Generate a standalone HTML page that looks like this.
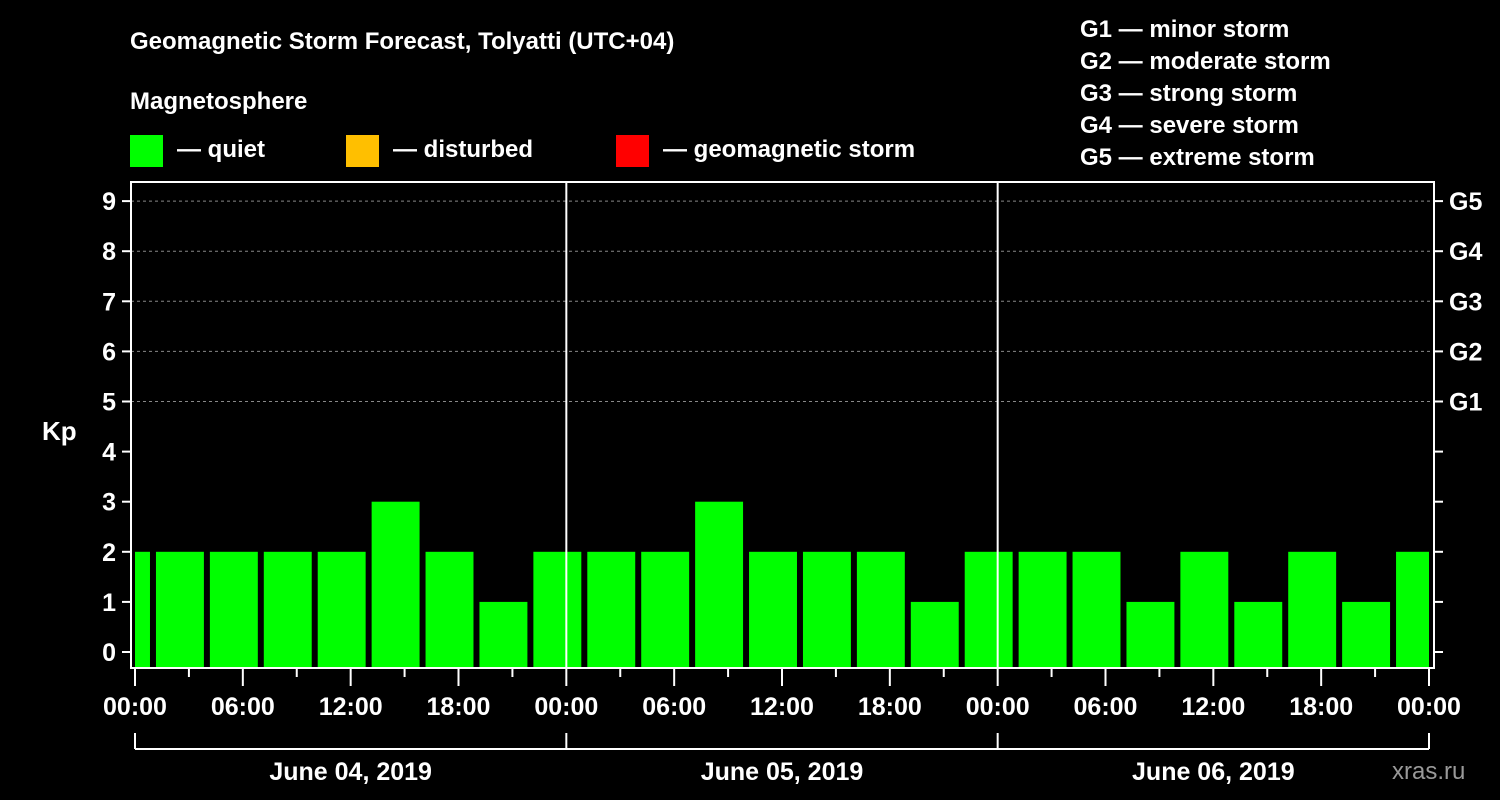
<!DOCTYPE html>
<html><head><meta charset="utf-8"><style>
html,body{margin:0;padding:0;background:#000;width:1500px;height:800px;overflow:hidden}
svg text{font-family:"Liberation Sans",Arial,sans-serif;font-weight:bold;fill:#fff}
</style></head><body>
<svg id="chart" width="1500" height="800" viewBox="0 0 1500 800" xmlns="http://www.w3.org/2000/svg">
<rect width="1500" height="800" fill="#000"/>
<text x="130" y="49" font-size="24">Geomagnetic Storm Forecast, Tolyatti (UTC+04)</text>
<text x="130" y="109" font-size="24">Magnetosphere</text>
<g><rect x="130" y="135" width="33" height="32" fill="#00ff00"/><text x="177" y="157" font-size="24">— quiet</text></g>
<g><rect x="346" y="135" width="33" height="32" fill="#ffbf00"/><text x="393" y="157" font-size="24">— disturbed</text></g>
<g><rect x="616" y="135" width="33" height="32" fill="#ff0000"/><text x="663" y="157" font-size="24">— geomagnetic storm</text></g>
<g font-size="24">
<text x="1080" y="37">G1 — minor storm</text>
<text x="1080" y="69">G2 — moderate storm</text>
<text x="1080" y="101">G3 — strong storm</text>
<text x="1080" y="133">G4 — severe storm</text>
<text x="1080" y="165">G5 — extreme storm</text>
</g>
<text x="42" y="440" font-size="26">Kp</text>
<g id="grid"></g><g id="bars"></g><g id="axes"></g>
<text x="1392" y="779" font-size="24" fill="#999" style="fill:#999;font-weight:normal">xras.ru</text>
</svg>
<script>
const kpHours=[-0.5,2.5,5.5,8.5,11.5,14.5,17.5,20.5,23.5,26.5,29.5,32.5,35.5,38.5,41.5,44.5,47.5,50.5,53.5,56.5,59.5,62.5,65.5,68.5,71.5];
const kpValues=[2,2,2,2,2,3,2,1,2,2,2,3,2,2,2,1,2,2,2,1,2,1,2,1,2];
const yTicks=[0,1,2,3,4,5,6,7,8,9];
const gLabels=["G1","G2","G3","G4","G5"];
const xTickLabels=["00:00","06:00","12:00","18:00","00:00","06:00","12:00","18:00","00:00","06:00","12:00","18:00","00:00"];
const dayLabels=["June 04, 2019","June 05, 2019","June 06, 2019"];
const NS="http://www.w3.org/2000/svg";
const X0=135,X1=1429,H=72,Y0=652,YU=50.1,PT=182,PB=668,PL=131,PR=1434;
const xs=h=>X0+(h/H)*(X1-X0), ys=v=>Y0-v*YU;
function mk(p,t,a){const e=document.createElementNS(NS,t);for(const k in a)e.setAttribute(k,a[k]);p.appendChild(e);return e;}
const grid=document.getElementById('grid'),bars=document.getElementById('bars'),axes=document.getElementById('axes');
for(let v=5;v<=9;v++){const l=mk(grid,'line',{x1:PL,x2:PR,y1:ys(v),y2:ys(v),stroke:'#888','stroke-dasharray':'3,3','stroke-width':1});

}
const bw=3*(X1-X0)/H*0.889;
kpHours.forEach((h,i)=>{let a=xs(h)-bw/2,b=xs(h)+bw/2;a=Math.max(a,X0);b=Math.min(b,X1);
const r=mk(bars,'rect',{x:a,y:ys(kpValues[i]),width:b-a,height:PB-ys(kpValues[i]),fill:'#00ff00'});

});
for(let d=1;d<3;d++){const l=mk(axes,'line',{x1:xs(24*d),x2:xs(24*d),y1:PT,y2:PB,stroke:'#fff','stroke-width':2});

}
mk(axes,'rect',{x:PL,y:PT,width:PR-PL,height:PB-PT,fill:'none',stroke:'#fff','stroke-width':2});
yTicks.forEach(v=>{mk(axes,'line',{x1:PL-9,x2:PL,y1:ys(v),y2:ys(v),stroke:'#fff','stroke-width':2});
mk(axes,'line',{x1:PR,x2:PR+9,y1:ys(v),y2:ys(v),stroke:'#fff','stroke-width':2});
const t=mk(axes,'text',{x:116,y:ys(v)+9,'text-anchor':'end','font-size':25});t.textContent=v;

});
gLabels.forEach((g,i)=>{const t=mk(axes,'text',{x:1449,y:ys(5+i)+9,'font-size':25});t.textContent=g;

});
for(let h=0;h<=72;h+=3){const major=h%6===0;mk(axes,'line',{x1:xs(h),x2:xs(h),y1:PB,y2:PB+(major?18:9),stroke:'#fff','stroke-width':2});}
xTickLabels.forEach((s,i)=>{const t=mk(axes,'text',{x:xs(i*6),y:715,'text-anchor':'middle','font-size':25});t.textContent=s;

});
mk(axes,'line',{x1:X0,x2:X1,y1:749,y2:749,stroke:'#fff','stroke-width':2});
for(let d=0;d<=3;d++)mk(axes,'line',{x1:xs(24*d),x2:xs(24*d),y1:733,y2:749,stroke:'#fff','stroke-width':2});
dayLabels.forEach((s,i)=>{const t=mk(axes,'text',{x:xs(24*i+12),y:780,'text-anchor':'middle','font-size':25});t.textContent=s;

});
</script>
</body></html>
